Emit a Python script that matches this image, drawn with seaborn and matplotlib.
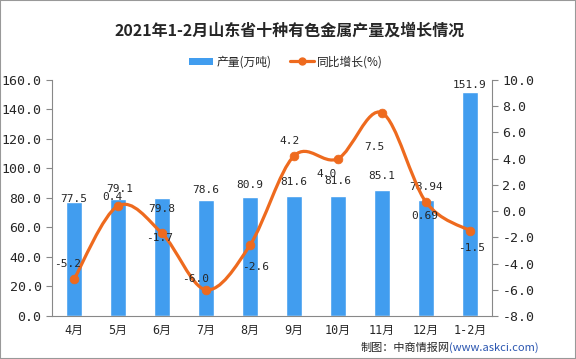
import numpy as np
import pandas as pd
import matplotlib.pyplot as plt
import seaborn as sns
from matplotlib.path import Path
from matplotlib.patches import PathPatch, Rectangle
from matplotlib.lines import Line2D
from matplotlib.patches import Patch

# Data
months = ["4月", "5月", "6月", "7月", "8月", "9月", "10月", "11月", "12月", "1-2月"]
output = [77.5, 79.1, 79.8, 78.6, 80.9, 81.6, 81.6, 85.1, 78.94, 151.9]
growth = [-5.2, 0.4, -1.7, -6.0, -2.6, 4.2, 4.0, 7.5, 0.69, -1.5]

# label offsets in pixels (dx, dy)
bar_off = [(0, 3), (2, 10), (0, -11), (0, 10), (0, 12), (0, 14), (0, 15), (0, 14), (0, 13), (0, 7)]
line_off = [(-6, 15), (-6, 9), (-2, -5), (-10, 11), (6, -22), (-4, 15), (-11, -15), (-8, -34), (-1, -14), (2, -17)]

BLUE = "#419DEF"
ORANGE = "#EE6A1E"
MONO = ["DejaVu Sans Mono", "Noto Sans CJK SC"]
CJK = ["Noto Sans CJK SC", "DejaVu Sans"]

sns.set_style("white")
plt.rcParams["font.family"] = MONO

df = pd.DataFrame({"month": months, "output": output, "growth": growth})

fig = plt.figure(figsize=(5.76, 3.59), dpi=100)
ax = fig.add_axes([0.0903, 0.1198, 0.7637, 0.6574])
sns.barplot(data=df, x="month", y="output", color=BLUE, saturation=1,
            width=0.36, ax=ax, zorder=2)
ax.set_xlim(-0.5, len(months) - 0.5)
ax.set_ylim(0, 160)
ax.set_yticks(np.arange(0, 161, 20))
ax.set_yticklabels([f"{v:.1f}" for v in np.arange(0, 161, 20)], fontsize=9.5)
ax.set_xlabel("")
ax.set_ylabel("")
ax.set_xticks(np.arange(len(months)))
ax.set_xticklabels(months, fontsize=8.5, family=MONO)
ax.set_xticks(np.arange(-0.5, len(months)), minor=True)
ax.tick_params(axis="x", which="major", length=0, pad=6)
ax.tick_params(axis="x", which="minor", length=4, color="#888888", direction="out")
ax.tick_params(axis="y", length=4, color="#888888", direction="out", left=True)

for i, v in enumerate(output):
    ax.annotate(str(v), (i, v), xytext=bar_off[i], textcoords="offset pixels",
                ha="center", va="center", fontsize=8, family=MONO)

ax2 = ax.twinx()
ax2.set_ylim(-8, 10)
ax2.set_yticks(np.arange(-8, 11, 2))
ax2.set_yticklabels([f"{v:.1f}" for v in np.arange(-8, 11, 2)], fontsize=9.5)
ax2.tick_params(axis="y", length=4, color="#888888", direction="out", right=True)

# smooth line through the points (Catmull-Rom as cubic Bezier)
pts = np.column_stack([np.arange(len(growth)), growth]).astype(float)
ext = np.vstack([pts[0], pts, pts[-1]])
verts = [pts[0]]
codes = [Path.MOVETO]
for i in range(len(pts) - 1):
    p0, p1, p2, p3 = ext[i], ext[i + 1], ext[i + 2], ext[i + 3]
    verts += [p1 + (p2 - p0) / 6, p2 - (p3 - p1) / 6, p2]
    codes += [Path.CURVE4] * 3
ax2.add_patch(PathPatch(Path(verts, codes), fill=False, edgecolor=ORANGE, lw=2.3, zorder=3))
sns.scatterplot(x=np.arange(len(growth)), y=growth, color=ORANGE, s=40,
                edgecolor=ORANGE, ax=ax2, zorder=4)

for i, v in enumerate(growth):
    ax2.annotate(str(v), (i, v), xytext=line_off[i], textcoords="offset pixels",
                 ha="center", va="center", fontsize=8, family=MONO, zorder=5)

for a in (ax, ax2):
    a.spines["top"].set_visible(False)
    for s in ("left", "right", "bottom"):
        a.spines[s].set_color("#888888")
        a.spines[s].set_linewidth(0.8)
ax.spines["right"].set_visible(False)
ax2.spines["left"].set_visible(False)
ax2.spines["bottom"].set_visible(False)

fig.text(0.503, 0.915, "2021年1-2月山东省十种有色金属产量及增长情况", ha="center", va="center",
         fontsize=11.5, fontweight="bold", family=CJK)

handles = [Patch(facecolor=BLUE, edgecolor="none"),
           Line2D([0], [0], color=ORANGE, lw=2.3, marker="o", markersize=5)]
fig.legend(handles, ["产量(万吨)", "同比增长(%)"], loc="center", bbox_to_anchor=(0.497, 0.828),
           ncol=2, frameon=False, prop={"family": CJK, "size": 8.5},
           handlelength=2.0, handleheight=0.55, columnspacing=1.6, handletextpad=0.3)

fig.text(0.78, 0.031, "制图：中商情报网", ha="right", va="center", fontsize=8, family=CJK)
fig.text(0.78, 0.031, "(www.askci.com)", ha="left", va="center", fontsize=8,
         family=CJK, color="#2A55B0")

fig.patches.append(Rectangle((0, 0), 1, 1, transform=fig.transFigure, fill=False,
                             edgecolor="#999999", lw=1.5))

fig.savefig("out.png", dpi=100)
